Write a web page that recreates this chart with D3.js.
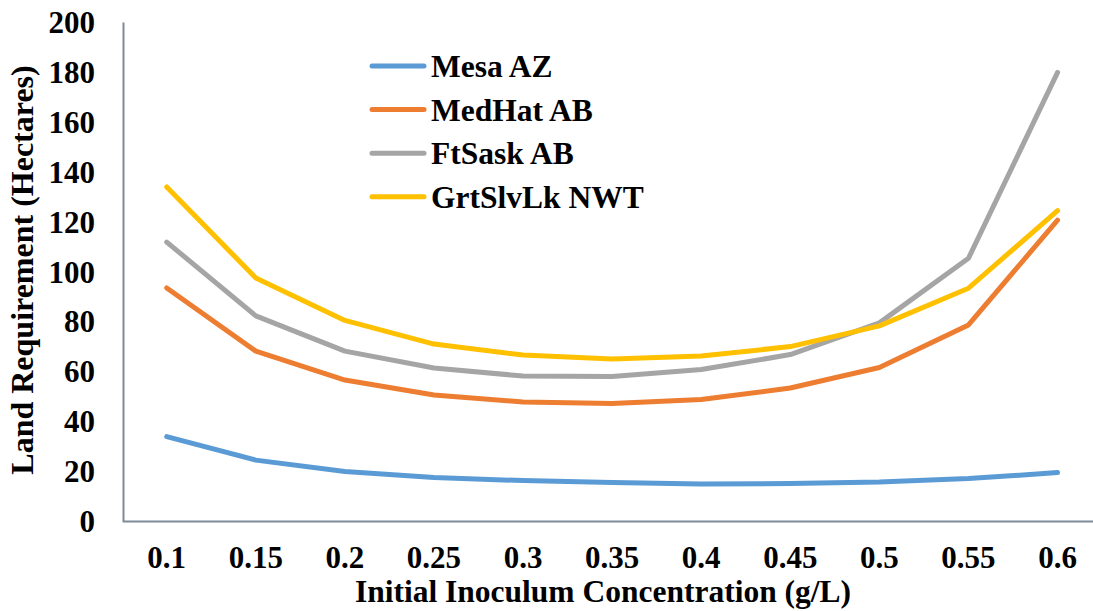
<!DOCTYPE html>
<html><head><meta charset="utf-8">
<script src="https://cdn.jsdelivr.net/npm/d3@7"></script>
<style>body{margin:0;background:#fff}svg{display:block}text{font-family:"Liberation Serif","Times New Roman",serif;font-weight:bold;fill:#000}</style>
</head><body><svg id="c" width="1093" height="611"></svg>
<script>
const categories = ["0.1","0.15","0.2","0.25","0.3","0.35","0.4","0.45","0.5","0.55","0.6"];
const seriesNames = ["Mesa AZ","MedHat AB","FtSask AB","GrtSlvLk NWT"];
const mesaAZ    = [33.8,24.4,19.8,17.4,16.2,15.4,14.8,15.0,15.6,17.0,19.4];
const medHatAB  = [93.4,68.1,56.5,50.5,47.7,47.1,48.7,53.3,61.5,78.6,120.6];
const ftSaskAB  = [111.8,82.2,68.1,61.3,58.1,57.9,60.7,66.7,79.4,105.3,179.8];
const grtSlvLk  = [133.9,97.4,80.4,70.9,66.5,64.9,66.1,69.9,78.2,93.3,124.4];
const yTicks = [0,20,40,60,80,100,120,140,160,180,200];
const colors = ["#5B9BD5","#ED7D31","#A5A5A5","#FFC000"];
const seriesValues = [mesaAZ, medHatAB, ftSaskAB, grtSlvLk];

const svg = d3.select("#c");
const L = 123, R = 1093, T = 22, B = 521;
const x = d3.scaleBand().domain(categories).range([122.2, 1102.1]);
const y = d3.scaleLinear().domain([0,200]).range([B, T]);

// y axis
const ya = svg.append("g").attr("transform",`translate(${L},0)`)
  .call(d3.axisLeft(y).tickValues(yTicks).tickSize(0).tickPadding(28));
ya.select(".domain").attr("stroke","#7f8a99").attr("stroke-width",2);
ya.selectAll("text").style("font-size","31px").attr("dy","0.34em");

// x axis
const xa = svg.append("g").attr("transform",`translate(0,${B})`)
  .call(d3.axisBottom(x).tickSize(0).tickPadding(25));
xa.select(".domain").attr("stroke","#7f8a99").attr("stroke-width",2);
xa.selectAll("text").style("font-size","31px");

// lines
const line = d3.line().x((d,i)=>x(categories[i]) + x.bandwidth()/2).y(d=>y(d));
seriesValues.forEach((vals,k)=>{
  svg.append("path").datum(vals).attr("d",line).attr("fill","none")
    .attr("stroke",colors[k]).attr("stroke-width",5)
    .attr("stroke-linecap","round").attr("stroke-linejoin","round");
});

// legend
const lg = svg.append("g");
seriesNames.forEach((n,k)=>{
  const yy = 66 + k*43.6;
  lg.append("line").attr("x1",372).attr("x2",424).attr("y1",yy).attr("y2",yy)
    .attr("stroke",colors[k]).attr("stroke-width",5).attr("stroke-linecap","round");
  lg.append("text").attr("x",431).attr("y",yy).attr("dy","0.35em")
    .style("font-size","31.5px").text(n);
});

// axis titles
svg.append("text").attr("x",603).attr("y",602).attr("text-anchor","middle")
  .style("font-size","31.5px").text("Initial Inoculum Concentration (g/L)");
svg.append("text").attr("transform",`translate(33,270) rotate(-90)`)
  .attr("text-anchor","middle").style("font-size","32px").text("Land Requirement (Hectares)");
</script></body></html>
